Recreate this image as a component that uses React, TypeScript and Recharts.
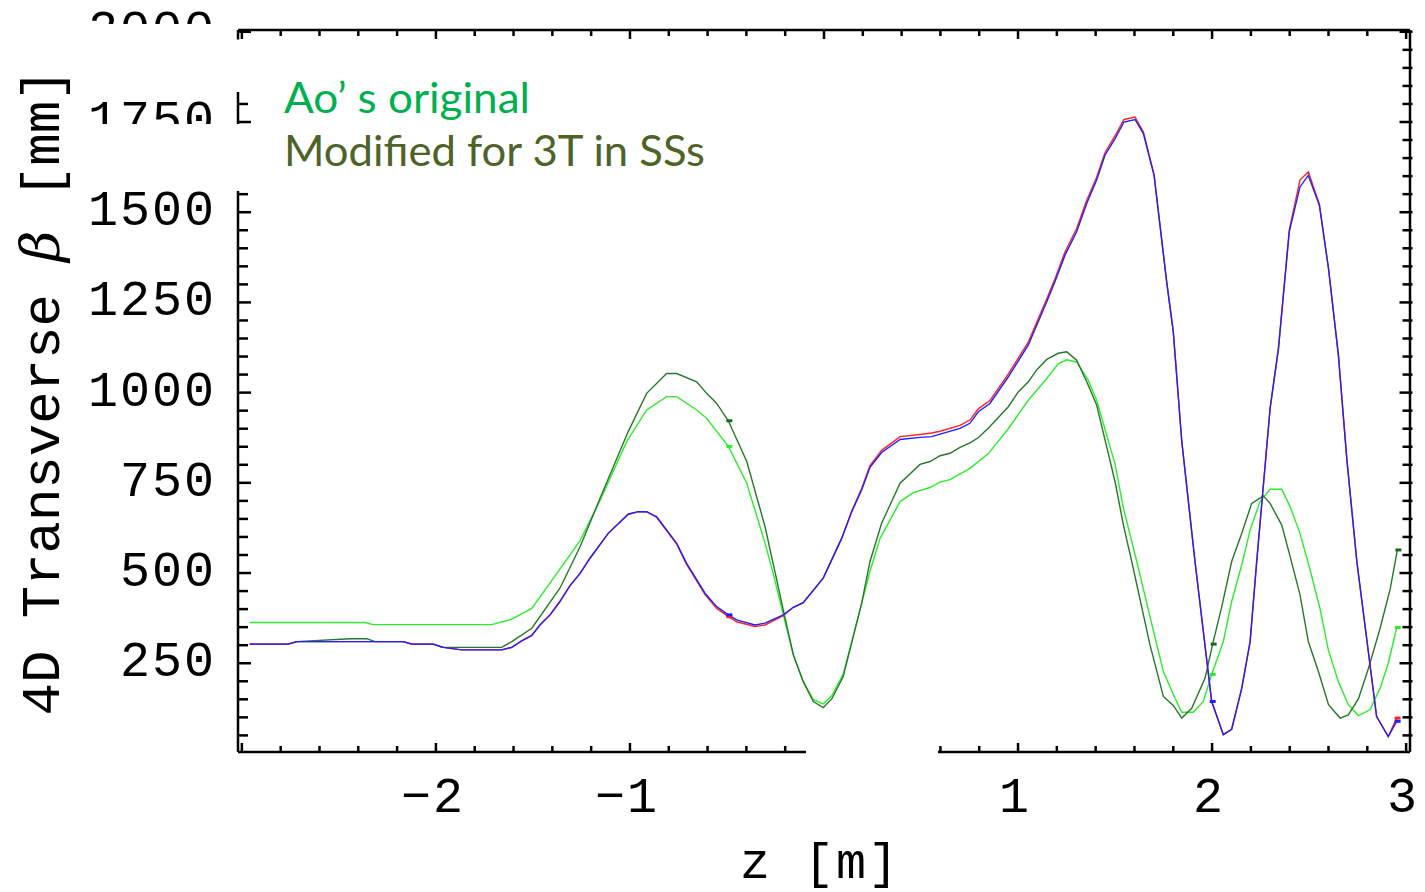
import React from 'react';
import { ComposedChart, Line, Scatter, XAxis, YAxis } from 'recharts';

const W = 1425;
const H = 892;

// z positions [m] and 4D transverse beta [mm]
const zBlue = [-2.96, -2.761, -2.717, -2.168, -2.125, -2.013, -1.962, -1.867, -1.661, -1.609, -1.558, -1.506, -1.464, -1.412, -1.361, -1.309, -1.257, -1.206, -1.112, -1.009, -0.957, -0.914, -0.862, -0.759, -0.708, -0.613, -0.553, -0.493, -0.45, -0.356, -0.304, -0.21, -0.158, -0.107, -0.004, 0.091, 0.143, 0.194, 0.237, 0.297, 0.392, 0.495, 0.555, 0.598, 0.701, 0.752, 0.795, 0.855, 0.95, 1.053, 1.148, 1.19, 1.242, 1.302, 1.354, 1.405, 1.448, 1.5, 1.546, 1.603, 1.646, 1.701, 1.766, 1.8, 1.844, 1.912, 1.998, 2.058, 2.101, 2.153, 2.196, 2.23, 2.299, 2.342, 2.398, 2.453, 2.496, 2.553, 2.6, 2.651, 2.694, 2.746, 2.848, 2.908, 2.951];
const betaBlue = [303, 303, 310, 310, 303, 303, 294, 287, 287, 294, 312, 327, 356, 384, 421, 465, 499, 541, 610, 663, 670, 670, 656, 582, 527, 444, 407, 384, 370, 356, 361, 384, 405, 418, 486, 596, 670, 730, 793, 834, 870, 876, 878, 885, 901, 915, 947, 970, 1044, 1132, 1252, 1307, 1381, 1446, 1524, 1589, 1658, 1704, 1750, 1757, 1718, 1602, 1307, 1169, 864, 532, 144, 52, 67, 181, 310, 532, 956, 1122, 1446, 1570, 1602, 1519, 1344, 1104, 818, 532, 102, 47, 89];
const betaRed = [303, 303, 310, 310, 303, 303, 294, 287, 287, 294, 312, 327, 356, 384, 421, 465, 499, 541, 610, 663, 670, 670, 654, 580, 524, 440, 402, 379, 365, 352, 356, 382, 405, 418, 486, 596, 672, 734, 798, 840, 878, 884, 888, 893, 909, 924, 955, 978, 1052, 1140, 1260, 1315, 1390, 1455, 1533, 1597, 1665, 1712, 1757, 1764, 1722, 1604, 1307, 1169, 864, 532, 144, 52, 67, 181, 310, 532, 956, 1122, 1452, 1589, 1612, 1522, 1344, 1104, 818, 532, 102, 47, 98];

const zDark = [-2.96, -2.761, -2.717, -2.443, -2.357, -2.314, -2.168, -2.125, -2.013, -1.97, -1.661, -1.609, -1.506, -1.361, -1.257, -1.154, -1.009, -0.914, -0.811, -0.759, -0.656, -0.605, -0.553, -0.493, -0.398, -0.304, -0.253, -0.21, -0.158, -0.107, -0.055, -0.004, 0.04, 0.099, 0.194, 0.237, 0.297, 0.392, 0.495, 0.546, 0.598, 0.649, 0.701, 0.752, 0.795, 0.855, 0.95, 1.001, 1.053, 1.096, 1.148, 1.207, 1.251, 1.302, 1.354, 1.405, 1.5, 1.543, 1.586, 1.68, 1.749, 1.8, 1.844, 1.895, 1.964, 2.003, 2.05, 2.101, 2.153, 2.204, 2.264, 2.299, 2.359, 2.402, 2.453, 2.496, 2.548, 2.6, 2.66, 2.702, 2.754, 2.806, 2.866, 2.918, 2.955];
const betaDark = [303, 303, 310, 318, 318, 310, 310, 303, 303, 294, 294, 310, 347, 458, 573, 707, 892, 998, 1053, 1053, 1030, 998, 970, 922, 809, 629, 504, 398, 273, 199, 144, 127, 151, 213, 416, 532, 638, 749, 801, 809, 825, 832, 848, 861, 875, 906, 961, 1002, 1030, 1063, 1092, 1109, 1113, 1090, 1030, 966, 753, 633, 532, 301, 158, 133, 98, 125, 209, 303, 407, 532, 610, 693, 714, 693, 633, 546, 440, 310, 227, 135, 98, 107, 151, 236, 347, 456, 564];

const zLight = [-2.96, -2.365, -2.324, -1.713, -1.609, -1.506, -1.361, -1.257, -1.154, -1.017, -0.914, -0.811, -0.759, -0.656, -0.605, -0.493, -0.398, -0.304, -0.26, -0.21, -0.158, -0.107, -0.055, -0.004, 0.04, 0.099, 0.194, 0.237, 0.289, 0.392, 0.46, 0.546, 0.598, 0.649, 0.752, 0.847, 0.95, 1.053, 1.148, 1.207, 1.251, 1.302, 1.362, 1.405, 1.5, 1.543, 1.612, 1.68, 1.749, 1.809, 1.844, 1.903, 1.955, 1.998, 2.058, 2.101, 2.153, 2.196, 2.247, 2.299, 2.359, 2.402, 2.453, 2.505, 2.556, 2.599, 2.651, 2.702, 2.754, 2.814, 2.866, 2.908, 2.952];
const betaLight = [363, 363, 357, 357, 372, 402, 511, 590, 701, 864, 952, 989, 989, 952, 929, 851, 749, 583, 495, 384, 274, 199, 149, 137, 160, 220, 416, 505, 596, 698, 723, 737, 752, 759, 790, 831, 900, 979, 1039, 1080, 1091, 1085, 1034, 979, 802, 680, 532, 379, 227, 153, 114, 114, 144, 219, 310, 421, 523, 619, 698, 732, 732, 684, 610, 509, 402, 287, 199, 135, 105, 121, 181, 250, 349];

// small markers at element boundaries
const markDarkZ = [-0.493, 2.003, 2.955];
const markDarkB = [922, 303, 564];
const markLightZ = [-0.493, 1.998, 2.952];
const markLightB = [851, 219, 349];
const markRedZ = [-0.493, 2.951];
const markRedB = [379, 98];
const markBlueZ = [-0.493, 1.998, 2.951];
const markBlueB = [384, 144, 89];

const Z_TICKS = [-3, -2.8, -2.6, -2.4, -2.2, -2, -1.8, -1.6, -1.4, -1.2, -1, -0.8, -0.6, -0.4, -0.2, 0, 0.2, 0.4, 0.6, 0.8, 1, 1.2, 1.4, 1.6, 1.8, 2, 2.2, 2.4, 2.6, 2.8, 3];
const Z_LABELS: Record<string, string> = { '-2': '\u22122', '-1': '\u22121', '1': '1', '2': '2', '3': '3' };
const B_TICKS = [50, 100, 150, 200, 250, 300, 350, 400, 450, 500, 550, 600, 650, 700, 750, 800, 850, 900, 950, 1000, 1050, 1100, 1150, 1200, 1250, 1300, 1350, 1400, 1450, 1500, 1550, 1600, 1650, 1700, 1750, 1800, 1850, 1900, 1950, 2000];
const B_LABELS = [250, 500, 750, 1000, 1250, 1500, 1750, 2000];

const Z_DOMAIN: [number, number] = [-3.02, 3.02];
const B_DOMAIN: [number, number] = [4, 2005];

const COLORS = {
  light: '#2cec2c',
  dark: '#27782a',
  red: '#ff2424',
  blue: '#2020ff',
};

const toData = (zs: number[], bs: number[]) => zs.map((z, i) => ({ z, b: bs[i] }));

const blueData = toData(zBlue, betaBlue);
const redData = toData(zBlue, betaRed);
const darkData = toData(zDark, betaDark);
const lightData = toData(zLight, betaLight);

const MONO = '"Liberation Mono", "DejaVu Sans Mono", monospace';

const isMajorZ = (v: number) => Math.abs(v - Math.round(v)) < 1e-6;

const BottomTick = (p: any) => {
  const v = p.payload.value;
  const major = isMajorZ(v);
  const key = String(Math.round(v));
  const label = major ? Z_LABELS[key] : undefined;
  return (
    <g>
      <line x1={p.x} x2={p.x} y1={p.y} y2={p.y - (major ? 9 : 6)} stroke="#000" strokeWidth={2.5} />
      {label ? (
        <text x={p.x - 3} y={p.y + 60} textAnchor="middle" fontFamily={MONO} fontSize={50} letterSpacing={2} fill="#000">
          {label}
        </text>
      ) : null}
    </g>
  );
};

const TopTick = (p: any) => {
  const major = isMajorZ(p.payload.value);
  return <line x1={p.x} x2={p.x} y1={p.y} y2={p.y + (major ? 9 : 6)} stroke="#000" strokeWidth={2.5} />;
};

const LeftTick = (p: any) => {
  const v = p.payload.value;
  const major = B_LABELS.includes(v);
  return (
    <g>
      <line x1={p.x} x2={p.x + (major ? 13 : 10)} y1={p.y} y2={p.y} stroke="#000" strokeWidth={2.5} />
      {major ? (
        <text x={p.x - 22} y={p.y + 13} textAnchor="end" fontFamily={MONO} fontSize={50} letterSpacing={2} fill="#000">
          {String(v)}
        </text>
      ) : null}
    </g>
  );
};

const RightTick = (p: any) => {
  const major = B_LABELS.includes(p.payload.value);
  return <line x1={p.x + 2.5} x2={p.x - (major ? 10.5 : 7.5)} y1={p.y} y2={p.y} stroke="#000" strokeWidth={2.5} />;
};

const marker = (color: string) => (p: any) => (
  <rect x={p.cx - 2} y={p.cy - 1.5} width={6} height={3} fill={color} />
);

export default function App() {
  return (
    <div style={{ position: 'absolute', left: 0, top: 0, width: W, height: H, background: '#fff' }}>
      <ComposedChart width={W} height={H} margin={{ top: 29, right: 0, bottom: 0, left: 0 }}>
        <XAxis
          xAxisId="bottom"
          dataKey="z"
          type="number"
          domain={Z_DOMAIN}
          allowDataOverflow
          ticks={Z_TICKS}
          interval={0}
          height={140}
          tickSize={0}
          tickMargin={0}
          tickLine={false}
          axisLine={{ stroke: '#000', strokeWidth: 2.5 }}
          tick={(p: any) => <BottomTick {...p} />}
        />
        <XAxis
          xAxisId="top"
          orientation="top"
          dataKey="z"
          type="number"
          domain={Z_DOMAIN}
          allowDataOverflow
          ticks={Z_TICKS}
          interval={0}
          height={1}
          tickSize={0}
          tickMargin={0}
          tickLine={false}
          axisLine={{ stroke: '#000', strokeWidth: 2.5 }}
          tick={(p: any) => <TopTick {...p} />}
        />
        <YAxis
          yAxisId="left"
          type="number"
          domain={B_DOMAIN}
          allowDataOverflow
          ticks={B_TICKS}
          interval={0}
          width={238}
          tickSize={0}
          tickMargin={0}
          tickLine={false}
          axisLine={{ stroke: '#000', strokeWidth: 2.5 }}
          tick={(p: any) => <LeftTick {...p} />}
        />
        <YAxis
          yAxisId="right"
          orientation="right"
          type="number"
          domain={B_DOMAIN}
          allowDataOverflow
          ticks={B_TICKS}
          interval={0}
          width={15}
          tickSize={0}
          tickMargin={0}
          tickLine={false}
          axisLine={{ stroke: '#000', strokeWidth: 2.5 }}
          tick={(p: any) => <RightTick {...p} />}
        />
        <Line xAxisId="bottom" yAxisId="left" data={lightData} dataKey="b" type="linear" stroke={COLORS.light} strokeWidth={1.4} dot={false} isAnimationActive={false} />
        <Line xAxisId="bottom" yAxisId="left" data={darkData} dataKey="b" type="linear" stroke={COLORS.dark} strokeWidth={1.4} dot={false} isAnimationActive={false} />
        <Line xAxisId="bottom" yAxisId="left" data={redData} dataKey="b" type="linear" stroke={COLORS.red} strokeWidth={1.4} dot={false} isAnimationActive={false} />
        <Line xAxisId="bottom" yAxisId="left" data={blueData} dataKey="b" type="linear" stroke={COLORS.blue} strokeWidth={1.4} dot={false} isAnimationActive={false} />
        <Scatter xAxisId="bottom" yAxisId="left" data={toData(markLightZ, markLightB)} dataKey="b" shape={marker(COLORS.light)} isAnimationActive={false} />
        <Scatter xAxisId="bottom" yAxisId="left" data={toData(markDarkZ, markDarkB)} dataKey="b" shape={marker('#1c6a1c')} isAnimationActive={false} />
        <Scatter xAxisId="bottom" yAxisId="left" data={toData(markRedZ, markRedB)} dataKey="b" shape={marker(COLORS.red)} isAnimationActive={false} />
        <Scatter xAxisId="bottom" yAxisId="left" data={toData(markBlueZ, markBlueB)} dataKey="b" shape={marker(COLORS.blue)} isAnimationActive={false} />
      </ComposedChart>
      <svg width={W} height={H} style={{ position: 'absolute', left: 0, top: 0, pointerEvents: 'none' }}>
        <rect x={0} y={24} width={236} height={71} fill="#fff" />
        <rect x={236} y={39.5} width={16} height={52.5} fill="#fff" />
        <rect x={0} y={124} width={253} height={67} fill="#fff" />
        <rect x={806} y={740} width={132} height={95} fill="#fff" />
        <text transform="rotate(-90)" x={-392} y={59} textAnchor="middle" fontFamily={MONO} fontSize={54} fill="#000">
          4D Transverse <tspan fontStyle="italic" fontFamily='"DejaVu Serif", serif'>β</tspan> [mm]
        </text>
        <text x={820} y={878} textAnchor="middle" fontFamily={MONO} fontSize={50} letterSpacing={2} fill="#000">
          z [m]
        </text>
        <text x={284} y={113} fontFamily="Lato, 'Open Sans', sans-serif" fontSize={43} fill="#00b050" textLength={246} lengthAdjust="spacingAndGlyphs">
          Ao’ s original
        </text>
        <text x={284} y={166} fontFamily="Lato, 'Open Sans', sans-serif" fontSize={43} fill="#4f6228" textLength={421} lengthAdjust="spacingAndGlyphs">
          Modified for 3T in SSs
        </text>
      </svg>
    </div>
  );
}
